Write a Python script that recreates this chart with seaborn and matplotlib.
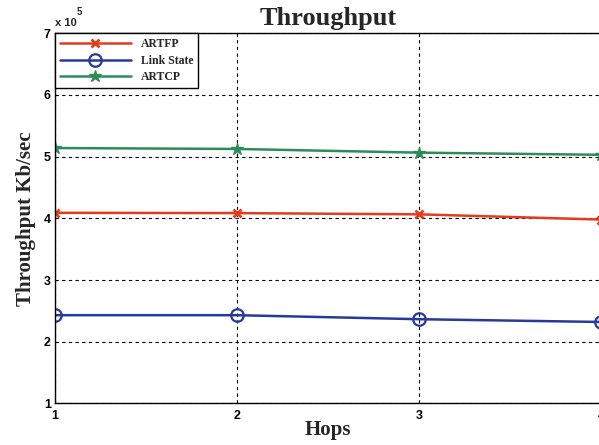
import matplotlib
matplotlib.use("Agg")
import matplotlib.pyplot as plt
import seaborn as sns
import pandas as pd

hops = [1, 2, 3, 4]
artfp = [409000, 408500, 406500, 398000]
link_state = [243000, 243000, 236500, 232000]
artcp = [514000, 512500, 506500, 503000]

series_names = ["ARTFP", "Link State", "ARTCP"]
series_values = [artfp, link_state, artcp]
x_ticks = [1, 2, 3, 4]
y_ticks = [1, 2, 3, 4, 5, 6, 7]

sns.set_theme(style="white")
plt.rcParams["font.family"] = ["Liberation Serif", "DejaVu Serif"]

fig = plt.figure(figsize=(5.99, 4.45), dpi=100)
ax = fig.add_axes([55 / 599, (445 - 403.4) / 445, 546 / 599, (403.4 - 33.3) / 445])

colors = {"ARTFP": "#e23c1c", "Link State": "#263a9c", "ARTCP": "#2e8b5a"}
styles = {
    "ARTFP": dict(marker="x", markersize=6, markeredgewidth=2),
    "Link State": dict(marker="o", markersize=9, markeredgewidth=1.6, markerfacecolor="none"),
    "ARTCP": dict(marker="*", markersize=9, markeredgewidth=1),
}

for name, vals in zip(series_names, series_values):
    df = pd.DataFrame({"Hops": hops, "Throughput": vals})
    st = styles[name]
    sns.lineplot(data=df, x="Hops", y="Throughput", ax=ax, color=colors[name],
                 linewidth=1.8, label=name, markeredgecolor=colors[name], **st)

ax.set_xlim(1, 4)
ax.set_ylim(1e5, 7e5)
ax.set_xticks(x_ticks)
ax.set_yticks([v * 1e5 for v in y_ticks])
ax.set_xticklabels([str(t) for t in x_ticks])
ax.set_yticklabels([str(t) for t in y_ticks])

for lab in ax.get_xticklabels() + ax.get_yticklabels():
    lab.set_fontfamily("Liberation Sans")
    lab.set_fontweight("bold")
    lab.set_fontsize(9)

ax.tick_params(axis="both", direction="in", length=4, width=0.8, colors="black", pad=3)
ax.tick_params(axis="x", pad=5)
ax.grid(True, color="black", linestyle=(0, (3, 3)), linewidth=0.8)
for sp in ax.spines.values():
    sp.set_color("black")
    sp.set_linewidth(1.0)

ax.set_title("Throughput", fontsize=19, fontweight="bold", pad=6)
ax.set_xlabel("Hops", fontsize=15, fontweight="bold")
ax.set_ylabel("Throughput Kb/sec", fontsize=15, fontweight="bold")
ax.yaxis.set_label_coords(-0.035, 0.5)
ax.xaxis.set_label_coords(0.5, -0.045)

fig.text(55 / 599, 1 - 26 / 445, "x 10", fontsize=8, fontweight="bold",
         family="Liberation Sans", ha="left", va="baseline")
fig.text(77 / 599, 1 - 15 / 445, "5", fontsize=7, fontweight="bold",
         family="Liberation Sans", ha="left", va="baseline")

leg = ax.legend(loc="upper left", bbox_to_anchor=(0, 1), borderaxespad=0,
                fancybox=False, edgecolor="black", framealpha=1,
                prop={"family": "Liberation Serif", "weight": "bold", "size": 8.5},
                handlelength=6.0, labelspacing=0.4, borderpad=0.4, handletextpad=0.9)
leg.get_frame().set_linewidth(1.0)

fig.savefig("out.png", dpi=100)
